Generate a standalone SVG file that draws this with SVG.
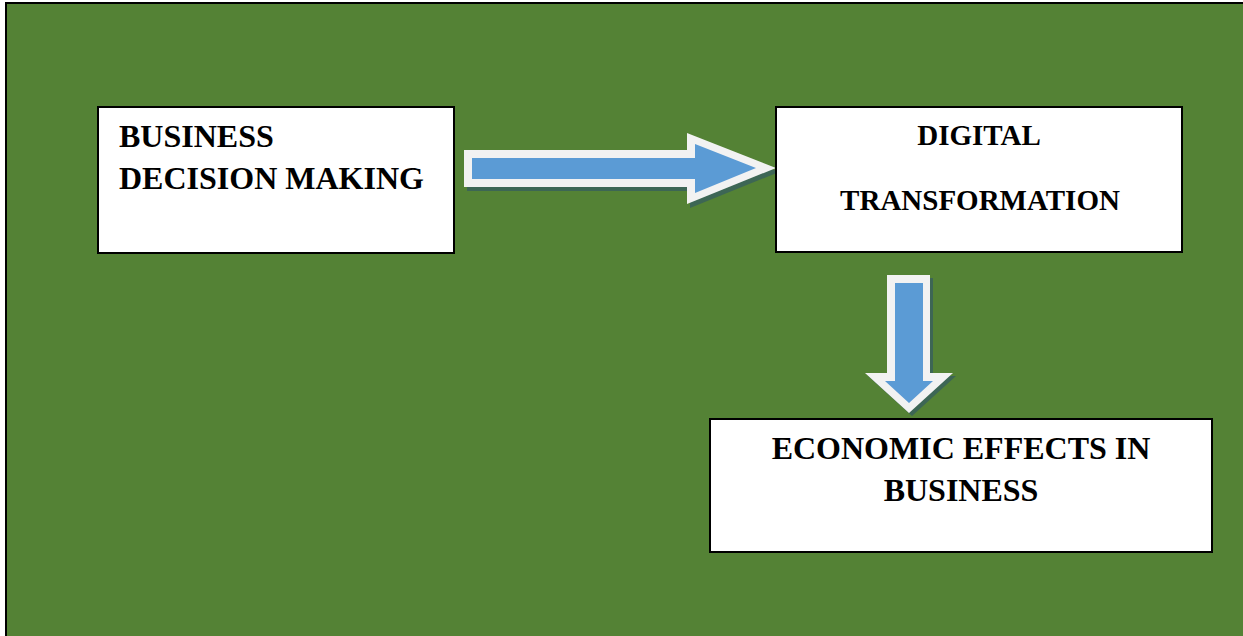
<svg xmlns="http://www.w3.org/2000/svg" width="1243" height="636" viewBox="0 0 1243 636">
<style>
.box{fill:#fff;stroke:#000;stroke-width:2}
.t{font-family:"Liberation Serif","Times New Roman",serif;font-weight:bold;fill:#000}
.outer{fill:#f2f2f2}
.inner{fill:#5b9bd5}
.shadow{fill:#3d6655}
</style>
<rect x="0" y="0" width="1243" height="636" fill="#fff"/>
<rect x="6" y="3" width="1260" height="660" fill="#548235" stroke="#000" stroke-width="2"/>
<g id="connectors">
<g id="arrow-right">
<polygon class="shadow" points="467,154 690,154 690,137 779,172 690,208 690,191 467,191"/>
<polygon class="outer" points="464,150 687,150 687,133 776,168 687,204 687,187 464,187"/>
<polygon class="inner" points="472,158 695,158 695,144 756,168 695,193 695,179 472,179"/>
</g>
<g id="arrow-down">
<polygon class="shadow" points="890,278 933,278 933,376 956,376 912,416 868,376 890,376"/>
<polygon class="outer" points="887,275 930,275 930,373 953,373 909,413 865,373 887,373"/>
<polygon class="inner" points="895,283 923,283 923,381 933,381 909,403 885,381 895,381"/>
</g>
</g>
<g id="node-business-decision">
<rect class="box" x="98" y="107" width="356" height="146"/>
<text class="t" font-size="32" x="119" y="147">BUSINESS</text>
<text class="t" font-size="32" x="119" y="189">DECISION MAKING</text>
</g>
<g id="node-digital-transformation">
<rect class="box" x="776" y="107" width="406" height="145"/>
<text class="t" font-size="29" x="979" y="145" text-anchor="middle">DIGITAL</text>
<text class="t" font-size="29" x="980" y="210" text-anchor="middle">TRANSFORMATION</text>
</g>
<g id="node-economic-effects">
<rect class="box" x="710" y="419" width="502" height="133"/>
<text class="t" font-size="32" x="961" y="459" text-anchor="middle">ECONOMIC EFFECTS IN</text>
<text class="t" font-size="32" x="961" y="501" text-anchor="middle">BUSINESS</text>
</g>
</svg>
